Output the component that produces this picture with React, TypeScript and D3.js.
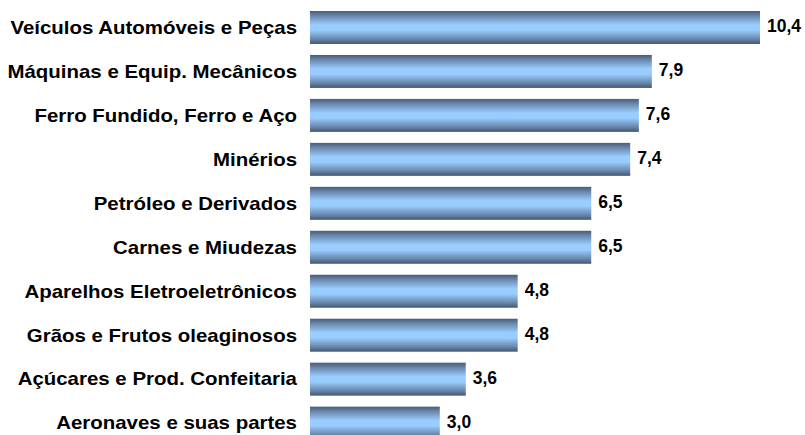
import React from "react";
import * as d3 from "d3";

const categories = [
  "Veículos Automóveis e Peças",
  "Máquinas e Equip. Mecânicos",
  "Ferro Fundido, Ferro e Aço",
  "Minérios",
  "Petróleo e Derivados",
  "Carnes e Miudezas",
  "Aparelhos Eletroeletrônicos",
  "Grãos e Frutos oleaginosos",
  "Açúcares e Prod. Confeitaria",
  "Aeronaves e suas partes",
];
const values = [10.4, 7.9, 7.6, 7.4, 6.5, 6.5, 4.8, 4.8, 3.6, 3.0];

const W = 805;
const H = 435;

export default function App() {
  const x = d3.scaleLinear().domain([0, 10.4]).range([310, 760]);
  const y = d3
    .scaleBand<string>()
    .domain(categories)
    .range([5.5, 445.1])
    .paddingInner(0.25)
    .paddingOuter(0.125);
  const fmt = (v: number) => v.toFixed(1).replace(".", ",");
  const font = "'Liberation Sans', Arial, sans-serif";
  return (
    <svg
      width={W}
      height={H}
      style={{ position: "fixed", left: 0, top: 0, display: "block", background: "#fff" }}
    >
      <defs>
        <linearGradient id="barGrad" x1="0" y1="0" x2="0" y2="1">
          <stop offset="0%" stopColor="#4a5d76" />
          <stop offset="15%" stopColor="#6a88ac" />
          <stop offset="42%" stopColor="#99ccff" />
          <stop offset="58%" stopColor="#99ccff" />
          <stop offset="85%" stopColor="#6887ab" />
          <stop offset="100%" stopColor="#44566d" />
        </linearGradient>
      </defs>
      {categories.map((c, i) => {
        const yc = (y(c) as number) + y.bandwidth() / 2;
        return (
          <g key={c}>
            <rect
              x={x(0)}
              y={y(c)}
              width={x(values[i]) - x(0)}
              height={y.bandwidth()}
              fill="url(#barGrad)"
            />
            <text
              transform={`translate(297,${yc + 6.3}) scale(1.155,1)`}
              textAnchor="end"
              fontFamily={font}
              fontWeight="bold"
              fontSize={17.7}
              fill="#000"
            >
              {c}
            </text>
            <text
              x={x(values[i]) + 7}
              y={yc + 4.8}
              fontFamily={font}
              fontWeight="bold"
              fontSize={17.5}
              fill="#000"
            >
              {fmt(values[i])}
            </text>
          </g>
        );
      })}
    </svg>
  );
}
